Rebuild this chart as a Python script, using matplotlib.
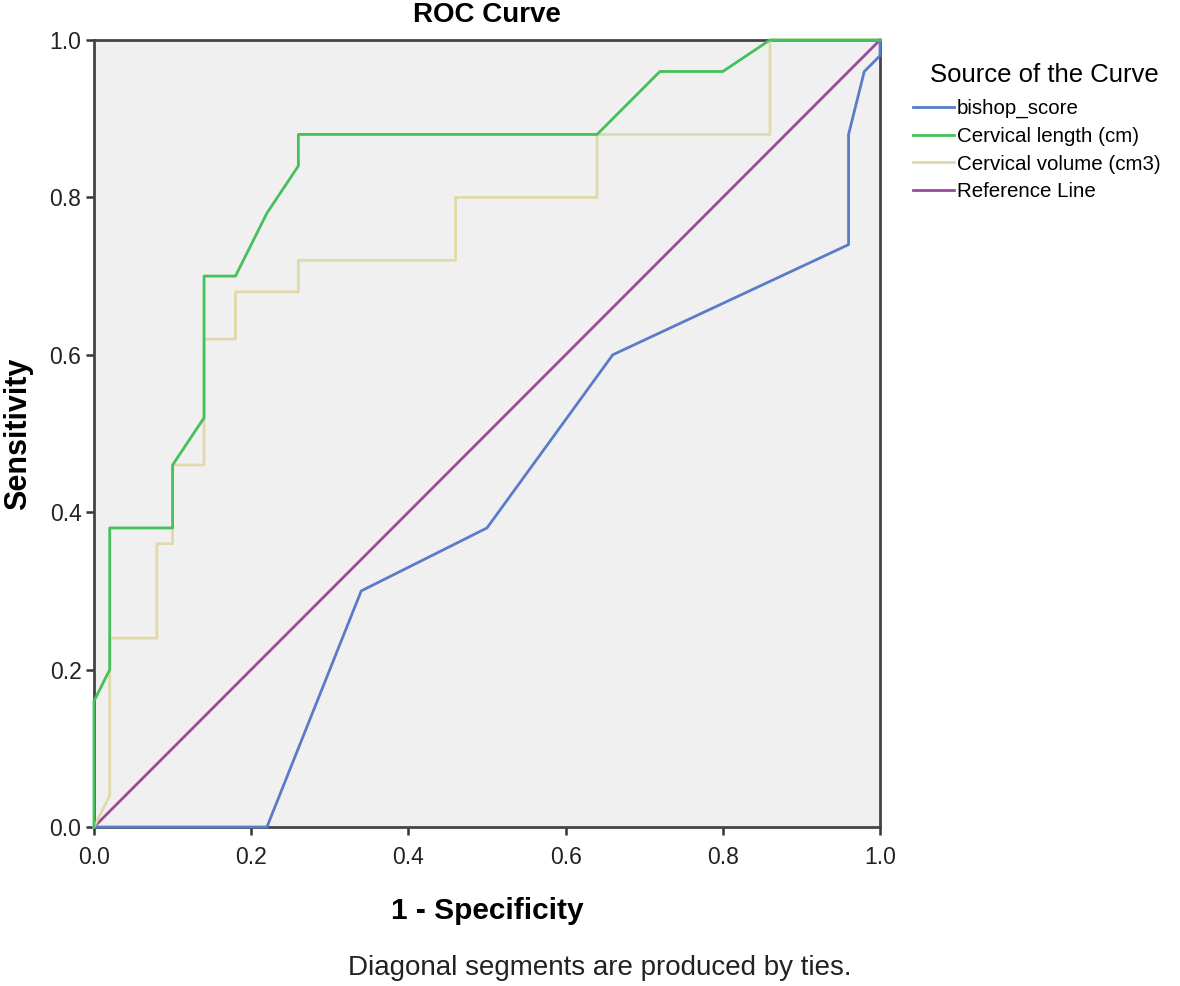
import matplotlib
matplotlib.use("Agg")
import matplotlib.pyplot as plt

plt.rcParams['font.family'] = ['Liberation Sans', 'DejaVu Sans']

# Data
bishop_x = [0.0, 0.22, 0.34, 0.50, 0.66, 0.96, 0.96, 0.98, 1.00, 1.00]
bishop_y = [0.0, 0.00, 0.30, 0.38, 0.60, 0.74, 0.88, 0.96, 0.98, 1.00]

length_x = [0.0, 0.0, 0.02, 0.02, 0.10, 0.10, 0.14, 0.14, 0.18, 0.22, 0.26, 0.26, 0.64, 0.72, 0.80, 0.86, 1.00]
length_y = [0.0, 0.16, 0.20, 0.38, 0.38, 0.46, 0.52, 0.70, 0.70, 0.78, 0.84, 0.88, 0.88, 0.96, 0.96, 1.00, 1.00]

volume_x = [0.0, 0.02, 0.02, 0.08, 0.08, 0.10, 0.10, 0.14, 0.14, 0.18, 0.18, 0.26, 0.26, 0.46, 0.46, 0.64, 0.64, 0.86, 0.86, 1.00]
volume_y = [0.0, 0.04, 0.24, 0.24, 0.36, 0.36, 0.46, 0.46, 0.62, 0.62, 0.68, 0.68, 0.72, 0.72, 0.80, 0.80, 0.88, 0.88, 1.00, 1.00]

ref_x = [0.0, 1.0]
ref_y = [0.0, 1.0]

labels = ["bishop_score", "Cervical length (cm)", "Cervical volume (cm3)", "Reference Line"]
colors = ["#5a7cc8", "#45c05a", "#e0d9aa", "#9b4b9b"]
ticks = [0.0, 0.2, 0.4, 0.6, 0.8, 1.0]

fig = plt.figure(figsize=(11.8, 9.86), dpi=100)
ax = fig.add_axes([94/1180, 1-827/986, (880-94)/1180, (827-40)/986])
ax.set_facecolor("#f0f0f0")

lw = 2.0
h1, = ax.plot(bishop_x, bishop_y, color=colors[0], lw=lw, label=labels[0], zorder=3)
h2, = ax.plot(length_x, length_y, color=colors[1], lw=lw, label=labels[1], zorder=4)
h3, = ax.plot(volume_x, volume_y, color=colors[2], lw=lw, label=labels[2], zorder=3)
h4, = ax.plot(ref_x, ref_y, color=colors[3], lw=lw, label=labels[3], zorder=2)
for line in (h1, h2, h3, h4):
    line.set_clip_on(False)

ax.set_xlim(0, 1)
ax.set_ylim(0, 1)
ax.set_xticks(ticks)
ax.set_yticks(ticks)
ax.set_xticklabels([f"{t:.1f}" for t in ticks])
ax.set_yticklabels([f"{t:.1f}" for t in ticks])
ax.tick_params(axis='both', direction='out', length=6, width=1.8, color="#333333",
               labelsize=16.5, labelcolor="#222222")
ax.tick_params(axis='x', pad=8)
ax.tick_params(axis='y', pad=3)
for s in ax.spines.values():
    s.set_color("#444444")
    s.set_linewidth(2)

fig.text(487/1180, 1-15/986, "ROC Curve", ha='center', va='center',
         fontsize=20, fontweight='bold')
ax.set_xlabel("1 - Specificity", fontsize=21.5, fontweight='bold', labelpad=20)
ax.set_ylabel("Sensitivity", fontsize=22, fontweight='bold', labelpad=12)

fig.text(600/1180, 1-968/986, "Diagonal segments are produced by ties.",
         ha='center', va='center', fontsize=20, color="#222222")

leg = fig.legend(handles=[h1, h2, h3, h4], labels=labels, title="Source of the Curve",
                 loc='upper left', bbox_to_anchor=(894/1180, 1-48/986),
                 frameon=False, fontsize=14.8, title_fontsize=18.5,
                 handlelength=2.0, handletextpad=0.15, labelspacing=0.42)
leg._legend_box.align = "left"
leg.get_title().set_position((18, 4))

fig.savefig("out.png", dpi=100, facecolor="white")
